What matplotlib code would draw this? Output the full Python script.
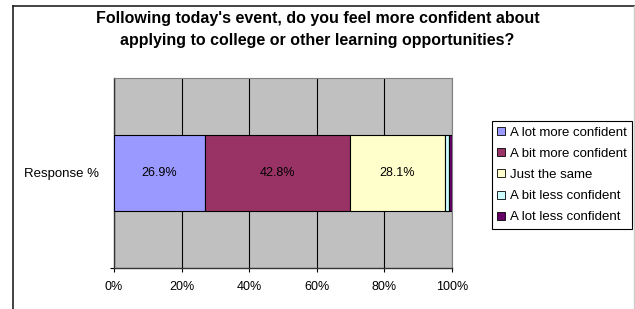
import matplotlib
matplotlib.use('Agg')
import matplotlib.pyplot as plt
import matplotlib.patches as mpatches
from matplotlib.lines import Line2D

# ---- data ----
categories = ['A lot more confident', 'A bit more confident', 'Just the same',
              'A bit less confident', 'A lot less confident']
values = [26.9, 42.8, 28.1, 1.2, 1.0]
colors = ['#9999FF', '#993366', '#FFFFCC', '#CCFFFF', '#660066']
row_label = 'Response %'
x_ticks = [0, 20, 40, 60, 80, 100]

plt.rcParams['font.family'] = ['Liberation Sans', 'DejaVu Sans']

fig = plt.figure(figsize=(6.35, 3.09), dpi=100)
ax = fig.add_axes([114 / 635, 41 / 309, 338 / 635, 190 / 309])
ax.set_facecolor('#C0C0C0')

left = 0
for cat, val, col in zip(categories, values, colors):
    ax.barh(0, val, left=left, height=0.4, color=col, edgecolor='black',
            linewidth=0.8, label=cat, zorder=3)
    if val > 5:
        ax.text(left + val / 2, 0, f'{val:.1f}%', ha='center', va='center',
                fontsize=9, zorder=4)
    left += val

ax.set_xlim(0, 100)
ax.set_ylim(-0.5, 0.5)
ax.set_xticks(x_ticks)
ax.set_xticklabels([f'{t}%' for t in x_ticks], fontsize=9)
ax.set_yticks([0])
ax.set_yticklabels([row_label], fontsize=9.5)
ax.set_yticks([-0.5], minor=True)
ax.tick_params(axis='y', which='major', length=0, pad=11)
ax.tick_params(axis='y', which='minor', direction='out', length=3, width=0.8)
ax.tick_params(axis='x', direction='out', length=3, width=0.8, pad=6)
ax.grid(True, axis='x', color='black', linewidth=0.8, zorder=1)
for side in ['top', 'right']:
    ax.spines[side].set_color('#808080')
    ax.spines[side].set_linewidth(0.8)
for side in ['left', 'bottom']:
    ax.spines[side].set_color('#333333')
    ax.spines[side].set_linewidth(1.0)

handles = [mpatches.Patch(facecolor=c, edgecolor='black', linewidth=0.6, label=l)
           for c, l in zip(colors, categories)]
leg = fig.legend(handles=handles, loc='center left',
                 bbox_to_anchor=(492 / 635, 1 - 175 / 309), fontsize=9.5,
                 handlelength=0.55, handleheight=0.55, handletextpad=0.4,
                 labelspacing=0.7, borderpad=0.4, borderaxespad=0,
                 fancybox=False, edgecolor='black', framealpha=1)
leg.get_frame().set_linewidth(0.8)

fig.text(0.5, 1 - 19 / 309,
         "Following today's event, do you feel more confident about",
         ha='center', va='center', fontsize=11.5, fontweight='bold')
fig.text(0.5, 1 - 41 / 309,
         'applying to college or other learning opportunities?',
         ha='center', va='center', fontsize=11.5, fontweight='bold')

# chart frame
fig.add_artist(Line2D([12.5 / 635, 12.5 / 635], [0, 1 - 6 / 309],
                      color='#222222', linewidth=1.2))
fig.add_artist(Line2D([12.5 / 635, 1], [1 - 6 / 309, 1 - 6 / 309],
                      color='#222222', linewidth=1.2))
fig.add_artist(Line2D([633.5 / 635, 633.5 / 635], [0, 1 - 6 / 309],
                      color='#CCCCCC', linewidth=1))

fig.savefig('out.png', dpi=100)
